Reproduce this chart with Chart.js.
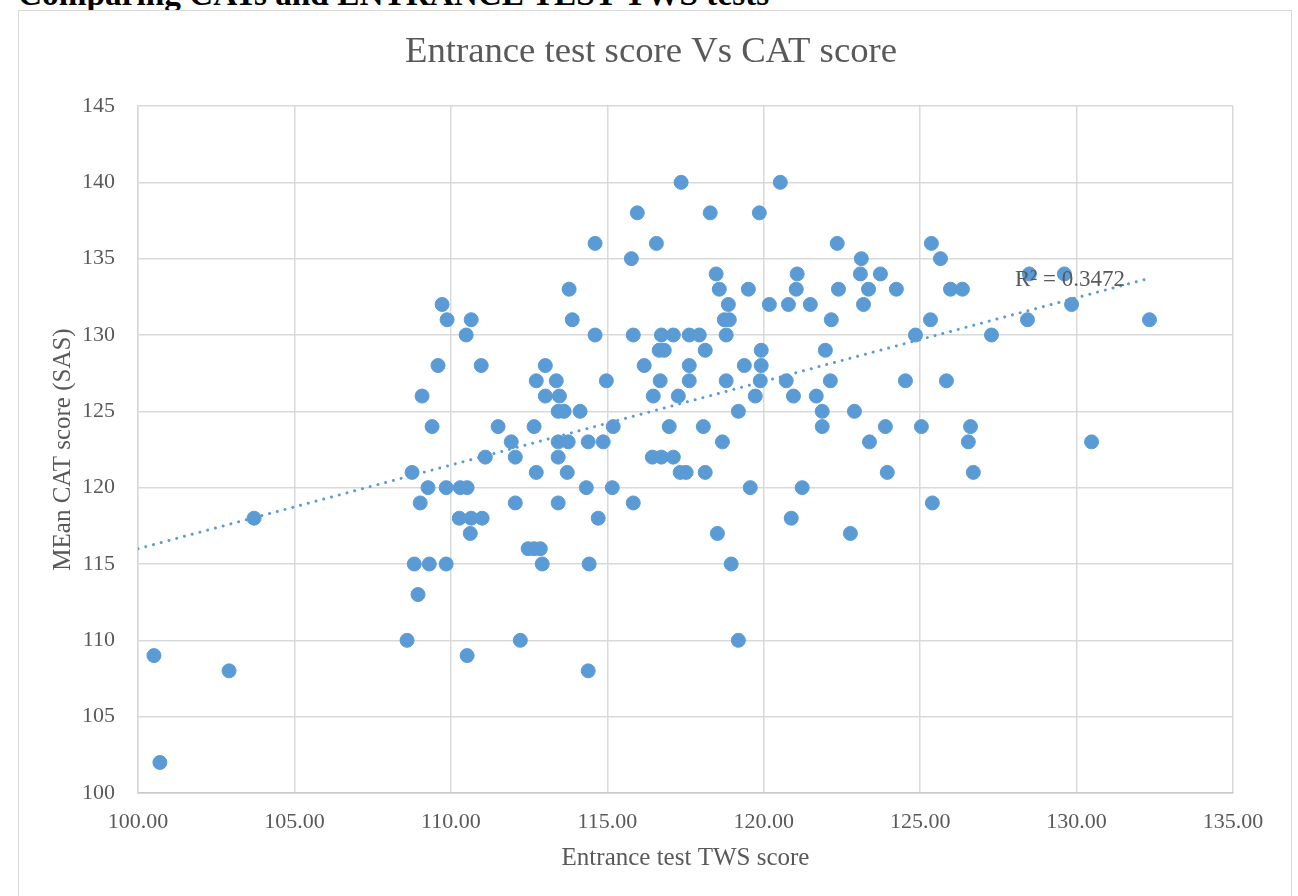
<!DOCTYPE html>
<html>
<head>
<meta charset="utf-8">
<title>Entrance test score Vs CAT score</title>
<script src="https://cdn.jsdelivr.net/npm/chart.js@4.4.0/dist/chart.umd.min.js"></script>
<style>
    body {
        margin: 0;
        background: #ffffff;
        overflow: hidden;
        width: 1298px;
        height: 896px;
        position: relative;
    }
    .page-heading {
        position: absolute;
        left: 18px;
        top: -23px;
        margin: 0;
        font-family: "Liberation Serif", serif;
        font-weight: bold;
        font-size: 33.3px;
        line-height: 33px;
        color: #000000;
        white-space: nowrap;
    }
    .chart-box {
        position: absolute;
        left: 18px;
        top: 10px;
        width: 1272px;
        height: 900px;
        border: 1px solid #d9d9d9;
        background: #ffffff;
    }
    .chart-wrap {
        position: absolute;
        left: 1px;
        top: 1px;
        width: 1262px;
        height: 885px;
    }
</style>
</head>
<body>
<h2 class="page-heading">Comparing CATs and ENTRANCE TEST TWS tests</h2>
<div class="chart-box">
    <div class="chart-wrap"><canvas id="scoreChart"></canvas></div>
</div>
<script>
// Entrance test TWS score (x) and mean CAT score (y) for each pupil
var twsScores = [
    100.51, 100.70, 102.91, 103.71, 108.60, 108.76, 108.83, 108.95, 109.02, 109.08,
    109.27, 109.31, 109.40, 109.59, 109.72, 109.85, 109.85, 109.88, 110.27, 110.30,
    110.49, 110.52, 110.52, 110.62, 110.65, 110.65, 110.97, 111.00, 111.10, 111.51,
    111.93, 112.06, 112.06, 112.22, 112.47, 112.66, 112.66, 112.73, 112.73, 112.86,
    112.92, 113.02, 113.02, 113.37, 113.43, 113.43, 113.43, 113.43, 113.47, 113.62,
    113.72, 113.75, 113.78, 113.88, 114.13, 114.33, 114.39, 114.39, 114.42, 114.61,
    114.61, 114.71, 114.87, 114.97, 115.16, 115.19, 115.77, 115.83, 115.83, 115.96,
    116.18, 116.44, 116.47, 116.57, 116.66, 116.69, 116.73, 116.73, 116.82, 116.98,
    117.11, 117.11, 117.27, 117.33, 117.36, 117.52, 117.62, 117.62, 117.62, 117.94,
    118.07, 118.13, 118.13, 118.29, 118.48, 118.52, 118.58, 118.68, 118.74, 118.80,
    118.80, 118.87, 118.90, 118.96, 119.19, 119.19, 119.38, 119.51, 119.57, 119.73,
    119.86, 119.89, 119.92, 119.92, 120.18, 120.53, 120.72, 120.79, 120.88, 120.95,
    121.04, 121.07, 121.23, 121.49, 121.68, 121.87, 121.87, 121.97, 122.13, 122.16,
    122.35, 122.39, 122.77, 122.90, 123.09, 123.12, 123.19, 123.35, 123.38, 123.73,
    123.89, 123.95, 124.24, 124.53, 124.85, 125.04, 125.33, 125.36, 125.39, 125.65,
    125.84, 125.97, 126.35, 126.54, 126.61, 126.70, 127.28, 128.43, 128.49, 129.61,
    129.84, 130.48, 132.33
];
var catScores = [
    109, 102, 108, 118, 110, 121, 115, 113, 119, 126,
    120, 115, 124, 128, 132, 120, 115, 131, 118, 120,
    130, 120, 109, 117, 118, 131, 128, 118, 122, 124,
    123, 122, 119, 110, 116, 116, 124, 127, 121, 116,
    115, 128, 126, 127, 125, 123, 122, 119, 126, 125,
    121, 123, 133, 131, 125, 120, 123, 108, 115, 136,
    130, 118, 123, 127, 120, 124, 135, 130, 119, 138,
    128, 122, 126, 136, 129, 127, 130, 122, 129, 124,
    130, 122, 126, 121, 140, 121, 130, 128, 127, 130,
    124, 129, 121, 138, 134, 117, 133, 123, 131, 130,
    127, 132, 131, 115, 125, 110, 128, 133, 120, 126,
    138, 127, 129, 128, 132, 140, 127, 132, 118, 126,
    133, 134, 120, 132, 126, 125, 124, 129, 127, 131,
    136, 133, 117, 125, 134, 135, 132, 133, 123, 134,
    124, 121, 133, 127, 130, 124, 131, 136, 119, 135,
    127, 133, 133, 123, 124, 121, 130, 131, 134, 134,
    132, 123, 131
];

// linear trendline: [slope, intercept], drawn over [from, to]
var trendCoef = [0.548, 61.2];
var trendRange = [100, 132.3];
var r2Text = 'R² = 0.3472';
var r2Pos = [128.03, 133.6];

var chartTitle = 'Entrance test score Vs CAT score';
var xTicks = [100, 135, 5];
var yTicks = [100, 145, 5];

var blue = '#5b9bd5';
var textGrey = '#595959';
var gridGrey = '#d9d9d9';
var serif = '"Liberation Serif", "Times New Roman", serif';

var points = [];
for (var i = 0; i < twsScores.length; i++) {
    points.push({ x: twsScores[i], y: catScores[i] });
}
var trendPoints = trendRange.map(function (v) {
    return { x: v, y: trendCoef[0] * v + trendCoef[1] };
});

// chart title centred on the whole chart box (not only the plot), like Excel does
var boxTitle = {
    id: 'boxTitle',
    afterDraw: function (chart) {
        var c = chart.ctx;
        c.save();
        c.font = '36.7px ' + serif;
        c.fillStyle = textGrey;
        c.textAlign = 'center';
        c.textBaseline = 'middle';
        c.fillText(chartTitle, chart.width / 2, 40);
        c.restore();
    }
};

// draws the R² text next to the trendline
var r2Label = {
    id: 'r2Label',
    afterDatasetsDraw: function (chart) {
        var c = chart.ctx;
        var px = chart.scales.x.getPixelForValue(r2Pos[0]);
        var py = chart.scales.y.getPixelForValue(r2Pos[1]);
        c.save();
        c.font = '23px ' + serif;
        c.fillStyle = textGrey;
        c.textAlign = 'left';
        c.textBaseline = 'middle';
        c.fillText(r2Text, px, py);
        c.restore();
    }
};

const ctx = document.getElementById('scoreChart').getContext('2d');
const scoreChart = new Chart(ctx, {
    type: 'scatter',
    data: {
        datasets: [{
            label: 'Linear (CAT score)',
            type: 'line',
            data: trendPoints,
            borderColor: blue,
            borderWidth: 3,
            borderDash: [0.01, 8],
            borderCapStyle: 'round',
            pointRadius: 0,
            fill: false,
            order: 2
        }, {
            label: 'CAT score',
            data: points,
            backgroundColor: blue,
            borderColor: blue,
            pointRadius: 7,
            pointBorderWidth: 1,
            order: 1
        }]
    },
    options: {
        responsive: true,
        maintainAspectRatio: false,
        animation: false,
        layout: {
            padding: { left: 0, right: 49, top: 94, bottom: 0 }
        },
        plugins: {
            legend: { display: false },
            tooltip: { enabled: false },
            title: { display: false }
        },
        scales: {
            x: {
                type: 'linear',
                min: xTicks[0],
                max: xTicks[1],
                afterFit: function (scale) {
                    scale.height = 104;
                    scale.paddingLeft = 0;
                    scale.paddingRight = 0;
                },
                ticks: {
                    stepSize: xTicks[2],
                    color: textGrey,
                    padding: 16,
                    font: { family: serif, size: 22 },
                    callback: function (value) {
                        return value.toFixed(2);
                    }
                },
                grid: { color: gridGrey, lineWidth: 1.5, drawTicks: false },
                border: { color: '#c8c8c8', width: 1.5 },
                title: {
                    display: true,
                    text: 'Entrance test TWS score',
                    color: textGrey,
                    font: { family: serif, size: 25 },
                    padding: { top: 0, bottom: 24 }
                }
            },
            y: {
                min: yTicks[0],
                max: yTicks[1],
                afterFit: function (scale) {
                    scale.width = 118;
                    scale.paddingTop = 0;
                    scale.paddingBottom = 0;
                },
                ticks: {
                    stepSize: yTicks[2],
                    color: textGrey,
                    padding: 23,
                    font: { family: serif, size: 22 }
                },
                grid: { color: gridGrey, lineWidth: 1.5, drawTicks: false },
                border: { color: gridGrey, width: 1.5 },
                title: {
                    display: true,
                    text: 'MEan CAT score (SAS)',
                    color: textGrey,
                    font: { family: serif, size: 25 },
                    padding: { top: 28, bottom: 0 }
                }
            }
        }
    },
    plugins: [boxTitle, r2Label]
});
</script>
</body>
</html>
